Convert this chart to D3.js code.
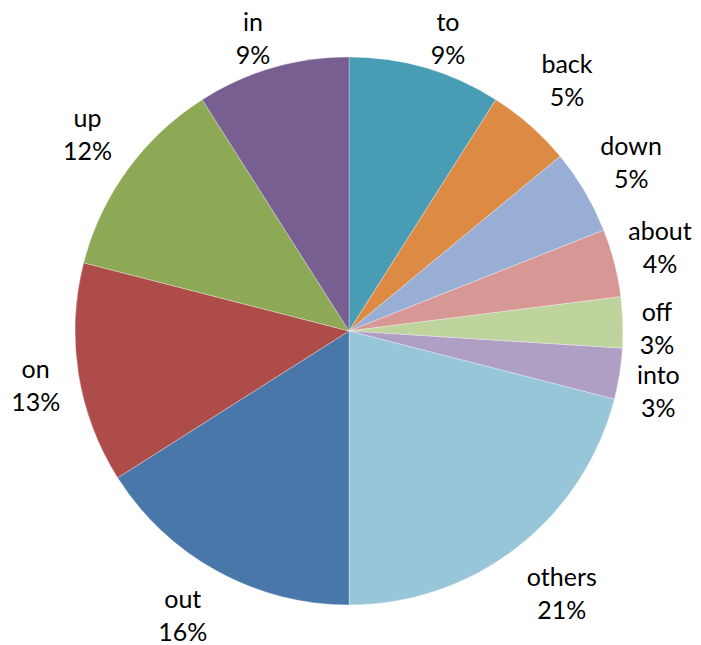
<!DOCTYPE html>
<html>
<head>
<meta charset="utf-8">
<script src="https://cdn.jsdelivr.net/npm/d3@7"></script>
<style>
  html, body { margin: 0; padding: 0; background: #ffffff; }
  svg { display: block; }
  text { font-family: Lato, "Noto Sans", sans-serif; fill: #000; }
</style>
</head>
<body>
<svg id="chart" width="701" height="645"></svg>
<script>
// Share of each particle, clockwise from 12 o'clock
const categories = ["to", "back", "down", "about", "off", "into", "others", "out", "on", "up", "in"];
const shares     = [9, 5, 5, 4, 3, 3, 21, 16, 13, 12, 9];
const colors     = ["#489DB5", "#DD8A45", "#98AED4", "#D69795", "#BFD39D", "#AF9FC4",
                    "#97C6D8", "#4A77AA", "#AE4C4A", "#8EA955", "#785F92"];
// Small hand tweaks so crowded labels sit clear of each other
const labelNudge = [[11, 10], [5, -9], [2, -3], [-2, -3], [4, 7], [2, 12],
                    [12, 4], [-12, 4], [-3, 5], [-2, -8], [-8, 10]];

const width = 701, height = 645;
const cx = 349, cy = 331, radius = 274;
const fontSize = 25, lineGap = 33, labelGap = 12;

const data = categories.map((c, i) => ({ name: c, value: shares[i], color: colors[i], nudge: labelNudge[i] }));

const svg = d3.select("#chart");
const g = svg.append("g").attr("transform", `translate(${cx},${cy})`);

const pie = d3.pie().value(d => d.value).sort(null);
const arc = d3.arc().innerRadius(0).outerRadius(radius);
const arcs = pie(data);

g.selectAll("path.slice")
  .data(arcs)
  .enter().append("path")
  .attr("class", "slice")
  .attr("d", arc)
  .attr("fill", d => d.data.color)
  .attr("stroke", "#ffffff")
  .attr("stroke-opacity", 0.5)
  .attr("stroke-width", 0.6);

// Two-line labels placed just outside each slice, pushed out by their own size
const labels = g.selectAll("g.label")
  .data(arcs)
  .enter().append("g")
  .attr("class", "label");

labels.append("text")
  .attr("class", "name")
  .attr("text-anchor", "middle")
  .attr("font-size", fontSize)
  .attr("y", -7.5)
  .text(d => d.data.name);

labels.append("text")
  .attr("class", "pct")
  .attr("text-anchor", "middle")
  .attr("font-size", fontSize)
  .attr("y", -7.5 + lineGap)
  .text(d => d.data.value + "%");

labels.each(function(d) {
  const node = d3.select(this);
  const w1 = node.select(".name").node().getComputedTextLength();
  const w2 = node.select(".pct").node().getComputedTextLength();
  const w = Math.max(w1, w2);
  const h = 51;
  const a = (d.startAngle + d.endAngle) / 2;
  const sx = Math.sin(a), sy = -Math.cos(a);
  const support = Math.abs(sx) * w / 2 + Math.abs(sy) * h / 2;
  const dist = radius + labelGap + support;
  const [nx, ny] = d.data.nudge;
  node.attr("transform", `translate(${sx * dist + nx},${sy * dist + ny})`);
});
</script>
</body>
</html>
